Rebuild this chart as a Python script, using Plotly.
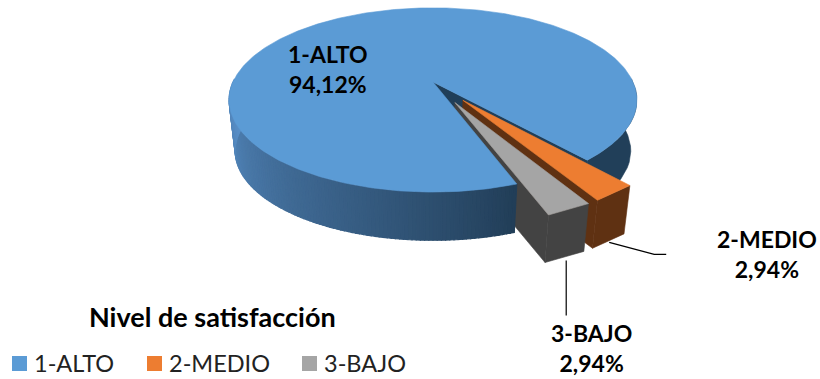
import numpy as np
import plotly.graph_objects as go

categories = ["1-ALTO", "2-MEDIO", "3-BAJO"]
values = [94.12, 2.94, 2.94]
explode = [0.0, 0.245, 0.245]
title_text = "Nivel de satisfacción"

TOP = ["#5b9bd5", "#ed7d31", "#a5a5a5"]
WALL = ["#213f59", "#5f3112", "#434343"]
CUT = "#203e58"
FONT = "Lato, Carlito, Calibri, 'Open Sans', sans-serif"

# projection of the tilted pie (screen pixels)
CX, CY_TOP, CY_BOT = 433.0, 82.0, 133.5
RX, RY, K, BOT_SCALE = 200.0, 88.6, 0.195, 0.97
START = 160.0


def project(theta, r, off, bottom=False):
    t = np.radians(theta)
    u = r * np.sin(t) + off[0]
    v = -r * np.cos(t) + off[1]
    w = 1 - K * v
    s = BOT_SCALE if bottom else 1.0
    cy = CY_BOT if bottom else CY_TOP
    return CX + s * RX * u / w, cy + s * RY * v / w


total = sum(values)
spans = [v / total * 360 for v in values]
starts = [START + sum(spans[:i]) for i in range(3)]
ends = [s + d for s, d in zip(starts, spans)]
mids = [s + d / 2 for s, d in zip(starts, spans)]
offs = [(e * np.sin(np.radians(m)), -e * np.cos(np.radians(m))) for e, m in zip(explode, mids)]

fig = go.Figure()


def poly(x, y, color, width=0.6):
    fig.add_trace(go.Scatter(x=list(x), y=list(y), mode="lines", fill="toself", fillcolor=color,
                             line=dict(color=color, width=width), showlegend=False, hoverinfo="skip"))


def top_face(i):
    # the small slices have straight outer edges in the reference
    th = np.linspace(starts[i], ends[i], 400 if i == 0 else 2)
    x, y = project(th, 1.0, offs[i])
    ax, ay = project(0.0, 0.0, offs[i])
    poly([ax, *x, ax], [ay, *y, ay], TOP[i])


def radial_wall(theta, off, color):
    xo, yo = project(theta, 1.0, off)
    xc, yc = project(theta, 0.0, off)
    xb, yb = project(theta, 1.0, off, True)
    xd, yd = project(theta, 0.0, off, True)
    poly([xc, xo, xb, xd, xc], [yc, yo, yb, yd, yc], color)


def outer_wall(a, b, off, color, width=0.6, n=16):
    th = np.linspace(a, b, n)
    x1, y1 = project(th, 1.0, off)
    x2, y2 = project(th[::-1], 1.0, off, True)
    poly([*x1, *x2, x1[0]], [*y1, *y2, y1[0]], color, width)


def blue_side(theta):
    # shaded front wall: light at far left, dark towards the cut
    f = np.clip((theta - 160) / 110, 0, 1)
    dark = np.array([34, 62, 88])
    light = np.array([88, 142, 198])
    c = dark + (light - dark) * f ** 0.9
    return "rgb(%d,%d,%d)" % tuple(c)


# painter's order, far faces first
radial_wall(starts[0], offs[0], CUT)
radial_wall(ends[0] % 360, offs[0], CUT)
outer_wall(88, ends[0] - 360, offs[0], WALL[0])
radial_wall(ends[1], offs[1], WALL[1])
radial_wall(ends[2], offs[2], WALL[2])

# main body front wall, then its top
for a in np.arange(160, 272, 1.0):
    outer_wall(a, a + 1.0, offs[0], blue_side(a), 1.2)
top_face(0)

# MEDIO slice
outer_wall(starts[1] - 360, ends[1] - 360, offs[1], WALL[1], n=2)
top_face(1)

# BAJO slice
outer_wall(starts[2] - 360, ends[2] - 360, offs[2], WALL[2], n=2)
top_face(2)

# leader lines start on the bottom edge of each slice
lx, ly = project(mids[1], 1.0, offs[1], True)
fig.add_trace(go.Scatter(x=[lx, lx + 45, lx + 57], y=[ly + 1, ly + 13, ly + 13], mode="lines",
                         line=dict(color="black", width=1.2), showlegend=False, hoverinfo="skip"))
gx, gy = project(mids[2], 1.0, offs[2], True)
fig.add_trace(go.Scatter(x=[gx + 1, gx + 1], y=[gy + 3, gy + 58], mode="lines",
                         line=dict(color="black", width=1.2), showlegend=False, hoverinfo="skip"))

# legend row
swatch_x = [19.5, 154.5, 309.5]
for c, col, sx in zip(categories, TOP, swatch_x):
    fig.add_trace(go.Scatter(x=[sx], y=[363.5], mode="markers", name=c, showlegend=False, hoverinfo="skip",
                             marker=dict(symbol="square", size=15, color=col, line=dict(width=0))))
    fig.add_annotation(x=sx + 12, y=363, xref="x", yref="y", showarrow=False, xanchor="left",
                       text=c, font=dict(family=FONT, size=23.5, color="#222222"))

# data labels
label_pos = [(328, 69), (767, 254), (591, 348)]
for c, v, (x, y) in zip(categories, values, label_pos):
    fig.add_annotation(x=x, y=y, xref="x", yref="y", showarrow=False, align="center",
                       text=f"<b>{c}<br>{v:.2f}%</b>".replace(".", ","),
                       font=dict(family=FONT, size=23, color="black"))
fig.add_annotation(x=212, y=316, xref="x", yref="y", showarrow=False, text=f"<b>{title_text}</b>",
                   font=dict(family=FONT, size=27, color="black"))

fig.update_layout(
    width=820, height=379, margin=dict(l=0, r=0, t=0, b=0),
    paper_bgcolor="white", plot_bgcolor="white",
    xaxis=dict(range=[0, 820], visible=False, fixedrange=True),
    yaxis=dict(range=[379, 0], visible=False, fixedrange=True),
    showlegend=False,
    hovermode=False,
)
fig.write_html("out.html", config=dict(displayModeBar=False),
               post_script="document.body.style.margin='0';document.documentElement.style.overflow='hidden';")
